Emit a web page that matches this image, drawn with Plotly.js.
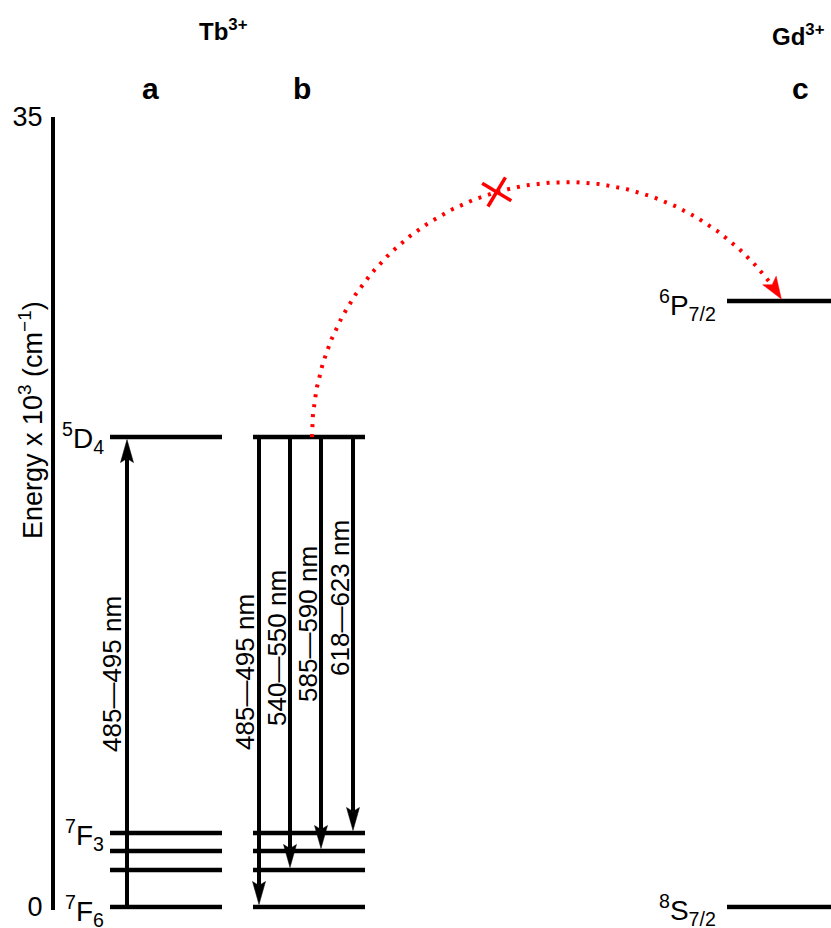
<!DOCTYPE html>
<html><head><meta charset="utf-8">
<script src="https://cdn.plot.ly/plotly-3.0.1.min.js"></script>
<style>html,body{margin:0;padding:0;background:#fff}#chart{width:831px;height:928px}</style>
</head><body><div id="chart"></div>
<script>
// ---------------- data ----------------
const tbLevelNames  = ['7F6', '7F5', '7F4', '7F3', '5D4'];
const tbLevelEnergy = [0, 1.64, 2.48, 3.28, 20.82];      // energy x 10^3 cm^-1
const gdLevelNames  = ['8S7/2', '6P7/2'];
const gdLevelEnergy = [0, 26.85];
const excitationFrom  = '7F6';
const excitationTo    = '5D4';
const excitationLabel = '485—495 nm';
const emissionFrom    = '5D4';
const emissionTo      = ['7F6', '7F5', '7F4', '7F3'];
const emissionLabels  = ['485—495 nm', '540—550 nm', '585—590 nm', '618—623 nm'];
const yTickVals = [0, 35];
const yTickText = ['0', '35'];

// ---------------- layout constants ----------------
const W = 831, H = 928;
const FONT = 'Liberation Sans, Arial, Helvetica, sans-serif';
const Y0PX = 907, Y35PX = 117;
const PPU = (Y0PX - Y35PX) / 35;          // px per unit energy
const yMin = -0.12;
const yBottomPx = Y0PX - yMin * PPU;
const yDomain = [(H - yBottomPx) / H, (H - Y35PX) / H];
const E2py = E => Y0PX - E * PPU;
const py2E = py => (Y0PX - py) / PPU;

const colA = [110, 222], colB = [253, 365], colC = [727, 831];
const arrowAX = 127, arrowBX = [259, 290, 321, 353];
const labelAX = 112, labelAPy = 674;
const labelBX = [245, 277, 308, 340], labelBPy = [672, 648, 624, 598];

const tbE = n => tbLevelEnergy[tbLevelNames.indexOf(n)];
const gdE = n => gdLevelEnergy[gdLevelNames.indexOf(n)];

const traces = [];
// energy levels
const lx = [], ly = [];
tbLevelEnergy.forEach(E => { [colA, colB].forEach(c => { lx.push(c[0], c[1], null); ly.push(E, E, null); }); });
gdLevelEnergy.forEach(E => { lx.push(colC[0], colC[1], null); ly.push(E, E, null); });
traces.push({type: 'scatter', mode: 'lines', x: lx, y: ly, line: {color: 'black', width: 4.5}, hoverinfo: 'skip'});

// vertical arrows
const HEAD_L = 23, HEAD_W = 6.5, NOTCH = 4, TIP_GAP = 2.5;
function vArrow(x, Efrom, Eto, color) {
  const dir = Eto > Efrom ? 1 : -1;
  const tipE = Eto - dir * TIP_GAP / PPU;
  const baseE = tipE - dir * HEAD_L / PPU;
  const notchE = baseE + dir * NOTCH / PPU;
  traces.push({type: 'scatter', mode: 'lines', x: [x, x], y: [Efrom, notchE], line: {color: color, width: 4}, hoverinfo: 'skip'});
  traces.push({type: 'scatter', mode: 'lines', fill: 'toself', fillcolor: color, line: {color: color, width: 0.5},
    x: [x, x - HEAD_W, x, x + HEAD_W, x], y: [tipE, baseE, notchE, baseE, tipE], hoverinfo: 'skip'});
}
vArrow(arrowAX, tbE(excitationFrom), tbE(excitationTo), 'black');
emissionTo.forEach((n, i) => vArrow(arrowBX[i], tbE(emissionFrom), tbE(n), 'black'));

// red dotted energy-transfer arc (blocked)
const RED = '#ff0000';
const arcCx = 567, arcR = 255;
const arcStartE = tbE('5D4'), arcEndE = gdE('6P7/2');
const cyPx = E2py(arcStartE);
const tipPy = E2py(arcEndE) - 2;
const thEnd = Math.asin((cyPx - tipPy) / arcR);
const RH_L = 22, RH_W = 8;
const thStop = thEnd + RH_L / arcR;
const ax = [], ay = [];
for (let i = 0; i <= 240; i++) {
  const th = Math.PI - (Math.PI - thStop) * i / 240;
  ax.push(arcCx + arcR * Math.cos(th));
  ay.push(arcStartE + arcR * Math.sin(th) / PPU);
}
traces.push({type: 'scatter', mode: 'lines', x: ax, y: ay, line: {color: RED, width: 4, dash: '3px,7px'}, hoverinfo: 'skip'});
// arrowhead on arc
(function () {
  const tx = arcCx + arcR * Math.cos(thEnd), ty = tipPy;
  const dx = Math.sin(thEnd), dy = Math.cos(thEnd);   // screen direction
  const nx = -dy, ny = dx;
  const bx = tx - dx * RH_L, by = ty - dy * RH_L;
  const kx = tx - dx * (RH_L - 5), ky = ty - dy * (RH_L - 5);
  const px = [tx, bx + nx * RH_W, kx, bx - nx * RH_W, tx];
  const pyy = [ty, by + ny * RH_W, ky, by - ny * RH_W, ty];
  traces.push({type: 'scatter', mode: 'lines', fill: 'toself', fillcolor: RED, line: {color: RED, width: 0.5},
    x: px, y: pyy.map(py2E), hoverinfo: 'skip'});
})();
// cross mark on arc
(function () {
  const th = 106 * Math.PI / 180;
  const cx = arcCx + arcR * Math.cos(th), cy = cyPx - arcR * Math.sin(th);
  const half = 17, a = 31 * Math.PI / 180;
  const d1 = [Math.cos(a), Math.sin(a)], d2 = [-Math.sin(a), Math.cos(a)];
  [d1, d2].forEach(d => {
    traces.push({type: 'scatter', mode: 'lines', x: [cx - d[0] * half, cx + d[0] * half],
      y: [py2E(cy - d[1] * half), py2E(cy + d[1] * half)], line: {color: RED, width: 3.5}, hoverinfo: 'skip'});
  });
})();

// ---------------- annotations ----------------
const ann = [];
const txt = (o) => ann.push(Object.assign({showarrow: false, font: {family: FONT, size: 26, color: 'black'}}, o));
// arrow labels
txt({text: excitationLabel, x: labelAX, y: py2E(labelAPy), xref: 'x', yref: 'y', textangle: -90, xanchor: 'center', yanchor: 'middle'});
emissionLabels.forEach((t, i) => txt({text: t, x: labelBX[i], y: py2E(labelBPy[i]), xref: 'x', yref: 'y', textangle: -90, xanchor: 'center', yanchor: 'middle'}));
// level labels
const LVL_FONT = {family: FONT, size: 28, color: 'black'};
const lvlLabel = (s) => s.replace(/^(\d)([A-Z])(.*)$/, '<sup>$1</sup>$2<sub>$3</sub>');
txt({text: lvlLabel('5D4'), x: 106, y: tbE('5D4'), xref: 'x', yref: 'y', xanchor: 'right', yanchor: 'middle', yshift: -1, font: LVL_FONT});
txt({text: lvlLabel('7F3'), x: 106, y: tbE('7F3'), xref: 'x', yref: 'y', xanchor: 'right', yanchor: 'middle', yshift: -2, font: LVL_FONT});
txt({text: lvlLabel('7F6'), x: 106, y: tbE('7F6'), xref: 'x', yref: 'y', xanchor: 'right', yanchor: 'middle', yshift: -4, font: LVL_FONT});
txt({text: lvlLabel('6P7/2'), x: 718, y: gdE('6P7/2'), xref: 'x', yref: 'y', xanchor: 'right', yanchor: 'middle', yshift: -4, font: LVL_FONT});
txt({text: lvlLabel('8S7/2'), x: 718, y: gdE('8S7/2'), xref: 'x', yref: 'y', xanchor: 'right', yanchor: 'middle', yshift: -3, font: LVL_FONT});
// y title
txt({text: 'Energy x 10<sup>3</sup> (cm<sup>−1</sup>)', x: 31 / W, y: (H - 420) / H, xref: 'paper', yref: 'paper', textangle: -90, xanchor: 'center', yanchor: 'middle', font: {family: FONT, size: 27, color: 'black'}});
// headers
txt({text: '<b>Tb<sup>3+</sup></b>', x: 223 / W, y: (H - 30) / H, xref: 'paper', yref: 'paper', xanchor: 'center', yanchor: 'middle', font: {family: FONT, size: 24, color: 'black'}});
txt({text: '<b>Gd<sup>3+</sup></b>', x: 770 / W, y: (H - 35) / H, xref: 'paper', yref: 'paper', xanchor: 'left', yanchor: 'middle', font: {family: FONT, size: 24, color: 'black'}});
[['a', 150], ['b', 302], ['c', 800]].forEach(([t, x]) =>
  txt({text: '<b>' + t + '</b>', x: x / W, y: (H - 88) / H, xref: 'paper', yref: 'paper', xanchor: 'center', yanchor: 'middle', font: {family: FONT, size: 30, color: 'black'}}));

const layout = {
  width: W, height: H, margin: {l: 0, r: 0, t: 0, b: 0},
  paper_bgcolor: 'white', plot_bgcolor: 'white', showlegend: false,
  font: {family: FONT, color: 'black'},
  xaxis: {range: [0, W], domain: [0, 1], visible: false, fixedrange: true},
  yaxis: {range: [yMin, 35], domain: yDomain, anchor: 'free', position: 53 / W,
    showline: true, linewidth: 4, linecolor: 'black', showgrid: false, zeroline: false,
    tickmode: 'array', tickvals: yTickVals, ticktext: yTickText, ticks: '', ticklabelstandoff: 3,
    tickfont: {family: FONT, size: 27, color: 'black'}, fixedrange: true},
  annotations: ann
};
Plotly.newPlot('chart', traces, layout, {displayModeBar: false, staticPlot: true});
</script>
</body></html>
